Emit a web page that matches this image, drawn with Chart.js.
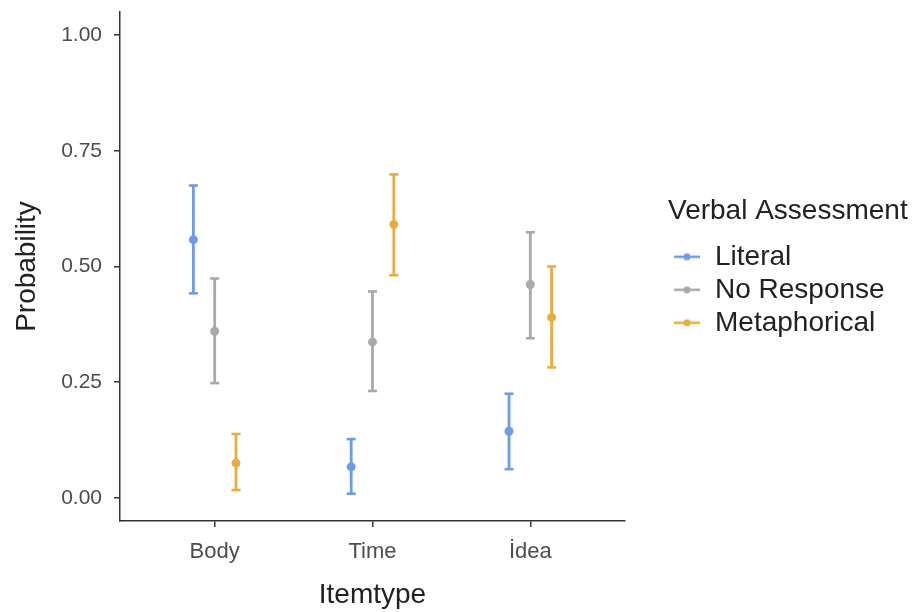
<!DOCTYPE html>
<html>
<head>
<meta charset="utf-8">
<title>Verbal Assessment by Itemtype</title>
<script src="https://cdn.jsdelivr.net/npm/chart.js@4.4.1/dist/chart.umd.min.js"></script>
<style>
  html, body { margin: 0; padding: 0; background: #fff; }
  #wrap { width: 924px; height: 612px; }
</style>
</head>
<body>
<div id="wrap"><canvas id="chart" width="924" height="612"></canvas></div>
<script>
// categories and tick labels
const categories = ['Body', 'Time', 'İdea'];
const yTicks = [0, 0.25, 0.5, 0.75, 1];
const seriesNames = ['Literal', 'No Response', 'Metaphorical'];
const seriesColors = ['#6f9ce6', '#a9a9a9', '#e8ad3e'];

// estimated probabilities with intervals (Body, Time, İdea)
const literalMean = [0.558, 0.067, 0.144];
const literalLow = [0.442, 0.009, 0.062];
const literalHigh = [0.675, 0.127, 0.225];

const noResponseMean = [0.360, 0.337, 0.461];
const noResponseLow = [0.248, 0.231, 0.345];
const noResponseHigh = [0.474, 0.446, 0.574];

const metaphoricalMean = [0.075, 0.591, 0.390];
const metaphoricalLow = [0.017, 0.481, 0.282];
const metaphoricalHigh = [0.138, 0.699, 0.500];

const dodge = [-0.135, 0, 0.135];
const FONT = "'Liberation Sans', Arial, sans-serif";

// lower end, point, upper end, then a gap so the line breaks between categories
function errorBarPoints(mean, low, high, s) {
    const pts = [];
    categories.forEach((c, i) => {
        const x = i + 1 + dodge[s];
        pts.push({ x: x, y: low[i] }, { x: x, y: mean[i] }, { x: x, y: high[i] }, { x: x, y: null });
    });
    return pts;
}

// legend key: short line with a dot, like ggplot's errorbar + point key
function legendKey(color) {
    const c = document.createElement('canvas');
    c.width = 28;
    c.height = 10;
    const g = c.getContext('2d');
    g.strokeStyle = color;
    g.lineWidth = 2.5;
    g.beginPath();
    g.moveTo(1, 5);
    g.lineTo(27, 5);
    g.stroke();
    g.fillStyle = color;
    g.beginPath();
    g.arc(14, 5, 3.5, 0, Math.PI * 2);
    g.fill();
    return c;
}
const legendKeys = seriesColors.map(legendKey);

const allSeries = [
    [literalMean, literalLow, literalHigh],
    [noResponseMean, noResponseLow, noResponseHigh],
    [metaphoricalMean, metaphoricalLow, metaphoricalHigh]
];

const datasets = allSeries.map((s, k) => ({
    label: seriesNames[k],
    data: errorBarPoints(s[0], s[1], s[2], k),
    showLine: true,
    spanGaps: false,
    borderColor: seriesColors[k],
    backgroundColor: seriesColors[k],
    borderWidth: 2.8,
    // caps are 'line' points, the estimate is a dot
    pointStyle: ctx => (ctx.index % 4 === 1 ? 'circle' : 'line'),
    pointRadius: ctx => (ctx.index % 4 === 1 ? 3.2 : 4.5),
    pointBorderWidth: 2.6,
    pointBorderColor: seriesColors[k],
    pointBackgroundColor: seriesColors[k],
    pointHoverRadius: 0
}));

// keep the panel where ggplot put it and move the legend next to it
const LEGEND_W = 299;
const legendPlacement = {
    id: 'legendPlacement',
    beforeLayout(chart) {
        const lg = chart.legend;
        if (lg && !lg._fixedWidth) {
            const fit = lg.fit;
            lg.fit = function () {
                fit.call(this);
                this.width = LEGEND_W;
            };
            lg._fixedWidth = true;
        }
    },
    afterLayout(chart) {
        const lg = chart.legend;
        const w = lg.right - lg.left;
        lg.left = chart.chartArea.right + 43;
        lg.right = lg.left + w;
        lg.top += 3;
        lg.bottom += 3;
    }
};

Chart.defaults.font.family = FONT;

new Chart(document.getElementById('chart'), {
    type: 'scatter',
    data: { datasets: datasets },
    options: {
        responsive: false,
        animation: false,
        events: [],
        layout: { padding: { top: 12, right: 0, bottom: 0, left: 0 } },
        plugins: {
            tooltip: { enabled: false },
            legend: {
                position: 'right',
                fullSize: false,
                labels: {
                    usePointStyle: true,
                    pointStyleWidth: 28,
                    padding: 5,
                    color: '#222',
                    font: { size: 28 },
                    generateLabels: function (chart) {
                        const items = Chart.defaults.plugins.legend.labels.generateLabels(chart);
                        items.forEach((it, i) => { it.pointStyle = legendKeys[i]; });
                        return items;
                    }
                },
                title: {
                    display: true,
                    text: 'Verbal Assessment',
                    position: 'start',
                    color: '#222',
                    font: { size: 28 },
                    padding: { top: 0, bottom: 7 }
                }
            }
        },
        scales: {
            x: {
                type: 'linear',
                min: 0.4,
                max: 3.6,
                afterFit: s => {
                    s.height = 91;
                    s.paddingLeft = 0;
                    s.paddingRight = 0;
                },
                afterBuildTicks: s => { s.ticks = categories.map((c, i) => ({ value: i + 1 })); },
                ticks: {
                    color: '#4d4d4d',
                    font: { size: 22 },
                    padding: 12,
                    callback: v => categories[v - 1]
                },
                grid: { drawOnChartArea: false, drawTicks: true, tickLength: 6, color: '#333', lineWidth: 1.5 },
                border: { display: true, color: '#333', width: 1.5 },
                title: {
                    display: true,
                    text: 'Itemtype',
                    color: '#222',
                    font: { size: 28 },
                    padding: { top: 0, bottom: 0 }
                }
            },
            y: {
                type: 'linear',
                min: -0.05,
                max: 1.05,
                afterFit: s => {
                    s.width = 120;
                    s.paddingTop = 0;
                    s.paddingBottom = 0;
                },
                afterBuildTicks: s => { s.ticks = yTicks.map(v => ({ value: v })); },
                ticks: {
                    color: '#4d4d4d',
                    font: { size: 21 },
                    padding: 12,
                    callback: v => v.toFixed(2)
                },
                grid: { drawOnChartArea: false, drawTicks: true, tickLength: 6, color: '#333', lineWidth: 1.5 },
                border: { display: true, color: '#333', width: 1.5 },
                title: {
                    display: true,
                    text: 'Probability',
                    color: '#222',
                    font: { size: 28 },
                    padding: { top: 10, bottom: 0 }
                }
            }
        }
    },
    plugins: [legendPlacement]
});
</script>
</body>
</html>
